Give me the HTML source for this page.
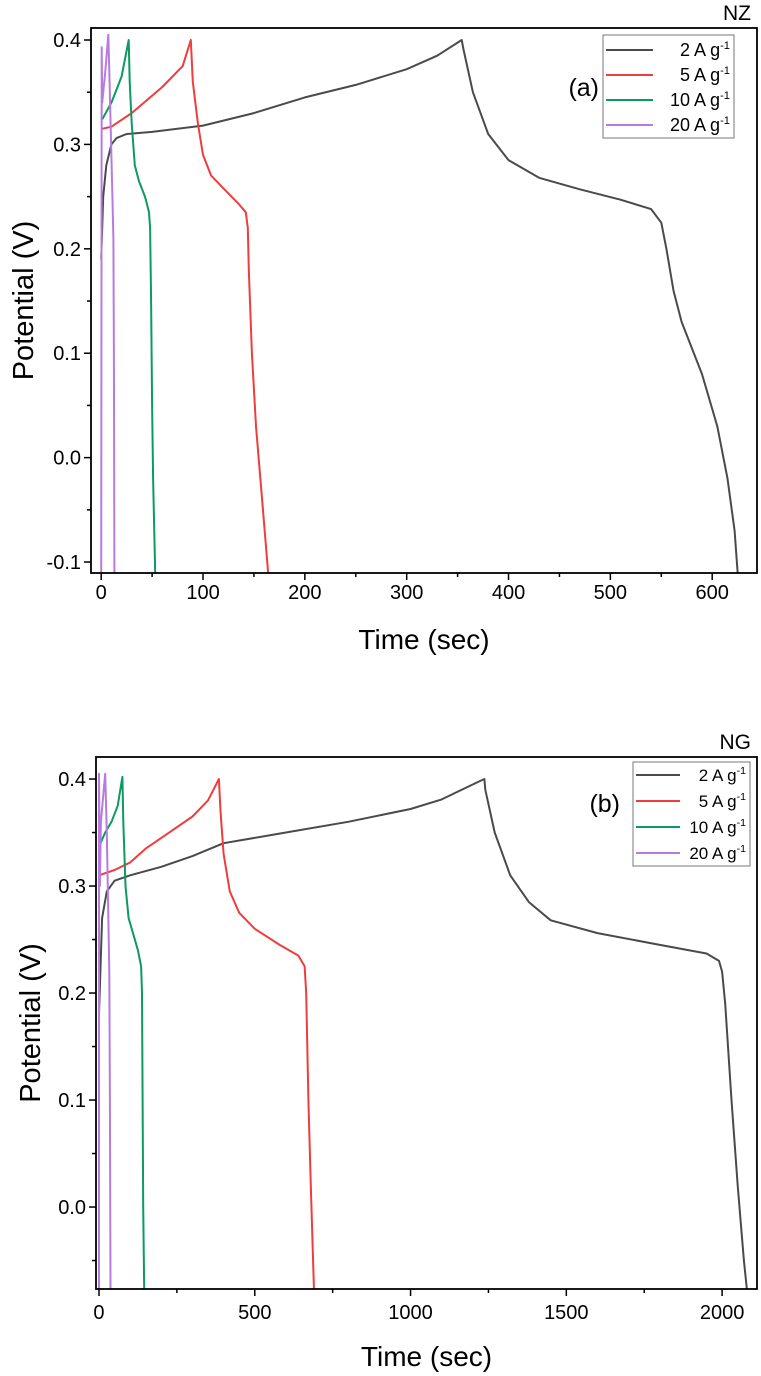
<!DOCTYPE html>
<html><head><meta charset="utf-8"><style>
body{margin:0;background:#fff;}
svg{display:block;font-family:"Liberation Sans",Arial,sans-serif;}
</style></head><body>
<svg id="fig" width="761" height="1376" viewBox="0 0 761 1376"></svg>
<script>
const seriesNames = ["2 A g-1","5 A g-1","10 A g-1","20 A g-1"];
const seriesColors = ["#4a4a4a","#f03c3c","#0b9a62","#b77be0"];
// Panel (a) NZ
const aBlackT=[0,2,5,10,15,25,50,100,150,200,250,300,330,354,356,365,380,400,430,470,510,540,550,555,562,570,590,605,615,622,625];
const aBlackV=[0.19,0.25,0.28,0.30,0.306,0.31,0.312,0.318,0.33,0.345,0.357,0.372,0.385,0.40,0.39,0.35,0.31,0.285,0.268,0.257,0.247,0.238,0.225,0.20,0.16,0.13,0.08,0.03,-0.02,-0.07,-0.111];
const aRedT=[1,10,30,60,80,88,90,95,100,108,120,135,142,144,145,148,152,158,164];
const aRedV=[0.315,0.317,0.33,0.355,0.375,0.40,0.36,0.32,0.29,0.27,0.258,0.243,0.235,0.22,0.18,0.10,0.03,-0.04,-0.111];
const aGreenT=[1,10,20,27,28,30,33,37,43,47,48,49,50,51,53];
const aGreenV=[0.324,0.34,0.365,0.40,0.36,0.32,0.28,0.265,0.25,0.235,0.22,0.15,0.05,-0.02,-0.111];
const aPurpleT=[0,0.5,1,4,7,8,11,12,12.5,13];
const aPurpleV=[-0.111,0.393,0.34,0.37,0.405,0.37,0.25,0.21,0.1,-0.111];
// Panel (b) NG
const bBlackT=[0,10,25,50,100,200,300,400,600,800,1000,1100,1200,1237,1240,1270,1320,1380,1450,1600,1800,1950,1990,2000,2010,2030,2050,2070,2080];
const bBlackV=[0.18,0.27,0.295,0.305,0.31,0.318,0.328,0.34,0.35,0.36,0.372,0.381,0.395,0.40,0.39,0.35,0.31,0.285,0.268,0.256,0.245,0.237,0.23,0.22,0.19,0.10,0.02,-0.05,-0.078];
const bRedT=[0,50,100,150,200,300,350,385,390,400,420,450,500,580,640,660,665,672,680,690];
const bRedV=[0.31,0.315,0.322,0.335,0.345,0.365,0.38,0.40,0.37,0.33,0.295,0.275,0.26,0.245,0.235,0.225,0.2,0.10,0.02,-0.078];
const bGreenT=[5,20,40,60,75,78,85,95,110,125,135,138,140,142,145];
const bGreenV=[0.34,0.35,0.36,0.375,0.402,0.36,0.30,0.27,0.255,0.24,0.225,0.2,0.10,0.0,-0.078];
const bPurpleT=[0,0,3,6,20,25,33,35,37];
const bPurpleV=[-0.078,0.405,0.3,0.36,0.405,0.35,0.22,0.1,-0.078];
const aXTicks=[0,100,200,300,400,500,600], aXMinor=[50,150,250,350,450,550];
const aYTicks=[-0.1,0.0,0.1,0.2,0.3,0.4], aYMinor=[-0.05,0.05,0.15,0.25,0.35];
const bXTicks=[0,500,1000,1500,2000], bXMinor=[250,750,1250,1750];
const bYTicks=[0.0,0.1,0.2,0.3,0.4], bYMinor=[-0.05,0.05,0.15,0.25,0.35];

const NS="http://www.w3.org/2000/svg";
const svg=document.getElementById('fig');
function mk(tag,attrs,parent){const e=document.createElementNS(NS,tag);for(const k in attrs)e.setAttribute(k,attrs[k]);(parent||svg).appendChild(e);return e;}

function panel(p){
  const g=mk('g',{});
  
  
  const X=t=>p.L+(t-p.x0)/(p.x1-p.x0)*(p.R-p.L);
  const Y=v=>p.B-(v-p.y0)/(p.y1-p.y0)*(p.B-p.T);
  const cp=mk('clipPath',{id:'c'+p.id},g);
  mk('rect',{x:p.L,y:p.T,width:p.R-p.L,height:p.B-p.T},cp);
  p.series.forEach((s,i)=>{
    const d=s[0].map((t,j)=>(j?'L':'M')+X(t).toFixed(1)+','+Y(s[1][j]).toFixed(1)).join('');
    const path=mk('path',{d:d,fill:'none',stroke:seriesColors[i],'stroke-width':2,'clip-path':'url(#c'+p.id+')','stroke-linejoin':'round'},g);
    
    
  });
  const fr=mk('rect',{x:p.L,y:p.T,width:p.R-p.L,height:p.B-p.T,fill:'none',stroke:'#000','stroke-width':1.8},g);
  
  
  p.xt.forEach(t=>{const x=X(t);mk('line',{x1:x,x2:x,y1:p.B,y2:p.B+7,stroke:'#000','stroke-width':1.5},g);
    const tx=mk('text',{x:x,y:p.B+p.xtOff,'text-anchor':'middle','font-size':20},g);tx.textContent=t;
    
    });
  p.xm.forEach(t=>{const x=X(t);mk('line',{x1:x,x2:x,y1:p.B,y2:p.B+4,stroke:'#000','stroke-width':1.5},g);});
  p.yt.forEach(v=>{const y=Y(v);mk('line',{x1:p.L-7,x2:p.L,y1:y,y2:y,stroke:'#000','stroke-width':1.5},g);
    const tx=mk('text',{x:p.L-10,y:y+7,'text-anchor':'end','font-size':20},g);tx.textContent=v.toFixed(1);
    
    });
  p.ym.forEach(v=>{const y=Y(v);mk('line',{x1:p.L-4,x2:p.L,y1:y,y2:y,stroke:'#000','stroke-width':1.5},g);});
  const xt=mk('text',{x:(p.L+p.R)/2,y:p.B+p.titOff,'text-anchor':'middle','font-size':28},g);xt.textContent='Time (sec)';
  
  
  const yt=mk('text',{x:0,y:0,'text-anchor':'middle','font-size':29,transform:'translate('+p.ytx+','+(p.T+p.B)/2+') rotate(-90)'},g);yt.textContent='Potential (V)';
  
  
  const tl=mk('text',{x:p.R-6,y:p.T-8,'text-anchor':'end','font-size':21},g);tl.textContent=p.title;
  
  
  const lb=mk('text',{x:p.labX,y:p.labY,'text-anchor':'end','font-size':25},g);lb.textContent=p.lab;
  
  
  const lg=mk('g',{},g);
  
  
  mk('rect',{x:p.lg[0],y:p.lg[1],width:p.lg[2],height:p.lg[3],fill:'#fff',stroke:'#777','stroke-width':1},lg);
  seriesNames.forEach((n,i)=>{
    const y=p.lg[1]+p.lgStart+i*p.lgStep;
    const e=mk('g',{},lg);
    
    
    mk('line',{x1:p.lg[0]+3,x2:p.lg[0]+3+p.lgLine,y1:y,y2:y,stroke:seriesColors[i],'stroke-width':2},e);
    const t=mk('text',{x:p.lg[0]+p.lg[2]-4,y:y+6,'text-anchor':'end','font-size':p.lgFont},e);
    const parts=n.split(' ');
    t.textContent=parts[0]+' A g';
    const sup=mk('tspan',{dy:-7,'font-size':p.lgFont*0.62},t);sup.textContent='-1';
  });
}
panel({id:'nz',L:91,R:757,T:28,B:573,x0:-10,x1:644,y0:-0.1105,y1:0.4115,
  series:[[aBlackT,aBlackV],[aRedT,aRedV],[aGreenT,aGreenV],[aPurpleT,aPurpleV]],
  xt:aXTicks,xm:aXMinor,yt:aYTicks,ym:aYMinor,ytx:33,title:'NZ',lab:'(a)',labX:599,labY:96,
  xtOff:26,titOff:76,
  lg:[603,35,131,103],lgStart:15,lgStep:25,lgLine:47,lgFont:18});
panel({id:'ng',L:96,R:757,T:757,B:1289,x0:-9.6,x1:2112,y0:-0.0766,y1:0.4206,
  series:[[bBlackT,bBlackV],[bRedT,bRedV],[bGreenT,bGreenV],[bPurpleT,bPurpleV]],
  xt:bXTicks,xm:bXMinor,yt:bYTicks,ym:bYMinor,ytx:40,title:'NG',lab:'(b)',labX:620,labY:812,
  xtOff:30,titOff:77,
  lg:[633,762,117,104],lgStart:13,lgStep:26,lgLine:44,lgFont:17});
</script>
</body></html>
